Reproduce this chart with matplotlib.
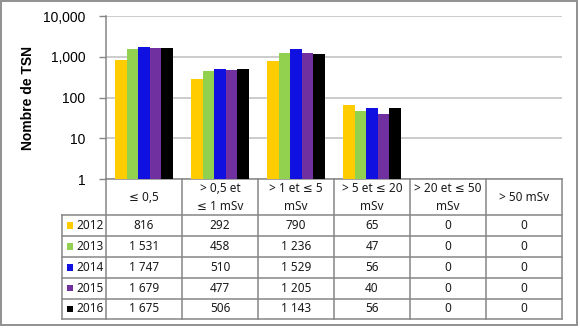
import numpy as np
import matplotlib
matplotlib.use("Agg")
import matplotlib.pyplot as plt
from matplotlib.patches import Rectangle
from matplotlib.ticker import FixedLocator, FuncFormatter, NullLocator

# Dose classes and annual counts of TSN workers
categories = ["≤ 0,5", "> 0,5 et\n≤ 1 mSv", "> 1 et ≤ 5\nmSv",
              "> 5 et ≤ 20\nmSv", "> 20 et ≤ 50\nmSv", "> 50 mSv"]
years = ["2012", "2013", "2014", "2015", "2016"]
v2012 = [816, 292, 790, 65, 0, 0]
v2013 = [1531, 458, 1236, 47, 0, 0]
v2014 = [1747, 510, 1529, 56, 0, 0]
v2015 = [1679, 477, 1205, 40, 0, 0]
v2016 = [1675, 506, 1143, 56, 0, 0]
series = [v2012, v2013, v2014, v2015, v2016]
colors = ["#FFCC00", "#92D050", "#1010E0", "#7030A0", "#000000"]
y_ticks = [1, 10, 100, 1000, 10000]

W, H = 580, 330
LINE = "#868686"
GRID = "#BFBFBF"

fig = plt.figure(figsize=(W / 100, H / 100), dpi=100)
fig.patch.set_facecolor("white")

# plot area in pixel coordinates
ax_l, ax_r, ax_t, ax_b = 106, 562, 16, 179
ax = fig.add_axes([ax_l / W, 1 - ax_b / H, (ax_r - ax_l) / W, (ax_b - ax_t) / H])

n = len(categories)
x = np.arange(n)
bw = 0.152
for k, (vals, col) in enumerate(zip(series, colors)):
    v = np.array(vals, dtype=float)
    v[v <= 0] = np.nan
    ax.bar(x + (k - 2) * bw, v, width=bw, color=col, zorder=3)

ax.set_yscale("log")
ax.set_ylim(1, 10000)
ax.set_xlim(-0.5, n - 0.5)
ax.yaxis.set_major_locator(FixedLocator(y_ticks))
ax.yaxis.set_minor_locator(NullLocator())
ax.yaxis.set_major_formatter(FuncFormatter(lambda v, p: f"{int(round(v)):,}"))
ax.set_xticks([])
ax.yaxis.grid(True, color=GRID, lw=1.1, zorder=0)
ax.tick_params(axis="y", length=5, width=1, color=LINE, pad=10,
               labelsize=10, labelcolor="#000000")
for lab in ax.get_yticklabels():
    lab.set_fontfamily("Liberation Sans")
for s in ["top", "right"]:
    ax.spines[s].set_visible(False)
for s in ["left", "bottom"]:
    ax.spines[s].set_color(LINE)
    ax.spines[s].set_linewidth(1.1)

fig.text(28 / W, 1 - 97.5 / H, "Nombre de TSN", rotation=90, ha="center",
         va="center", fontsize=10, fontweight="bold", family="Liberation Sans")

# data table beneath the plot, drawn on a pixel-coordinate overlay
ov = fig.add_axes([0, 0, 1, 1])
ov.set_xlim(0, W)
ov.set_ylim(H, 0)
ov.axis("off")
ov.patch.set_alpha(0)

col_edges = np.linspace(ax_l, ax_r, n + 1)
col_mid = (col_edges[:-1] + col_edges[1:]) / 2
lab_l = 62
head_b = 215
row_edges = [215, 236, 257, 278, 298.5, 319]

lw = 1.1
for xe in col_edges:
    ov.plot([xe, xe], [ax_b, row_edges[-1]], color=LINE, lw=lw)
ov.plot([lab_l, lab_l], [head_b, row_edges[-1]], color=LINE, lw=lw)
for ye in row_edges:
    ov.plot([lab_l, ax_r], [ye, ye], color=LINE, lw=lw)

tfont = dict(family=["Noto Sans", "DejaVu Sans"], fontsize=8.5, color="#1a1a1a")
for cx, cat in zip(col_mid, categories):
    ov.text(cx, (ax_b + head_b) / 2 + 0.5, cat, ha="center", va="center",
            linespacing=1.5, **tfont)

for r, (yr, vals, col) in enumerate(zip(years, series, colors)):
    cy = (row_edges[r] + row_edges[r + 1]) / 2
    ov.add_patch(Rectangle((66.5, cy - 3.2), 6.2, 6.2, color=col, lw=0))
    ov.text(76.5, cy, yr, ha="left", va="center", **tfont)
    for cx, v in zip(col_mid, vals):
        ov.text(cx, cy, f"{v:,}".replace(",", " "), ha="center", va="center", **tfont)

# chart frame
ov.add_patch(Rectangle((0.5, 0.5), 576, 324, fill=False, edgecolor="#888888", lw=1.3))

fig.savefig("out.png", dpi=100)
